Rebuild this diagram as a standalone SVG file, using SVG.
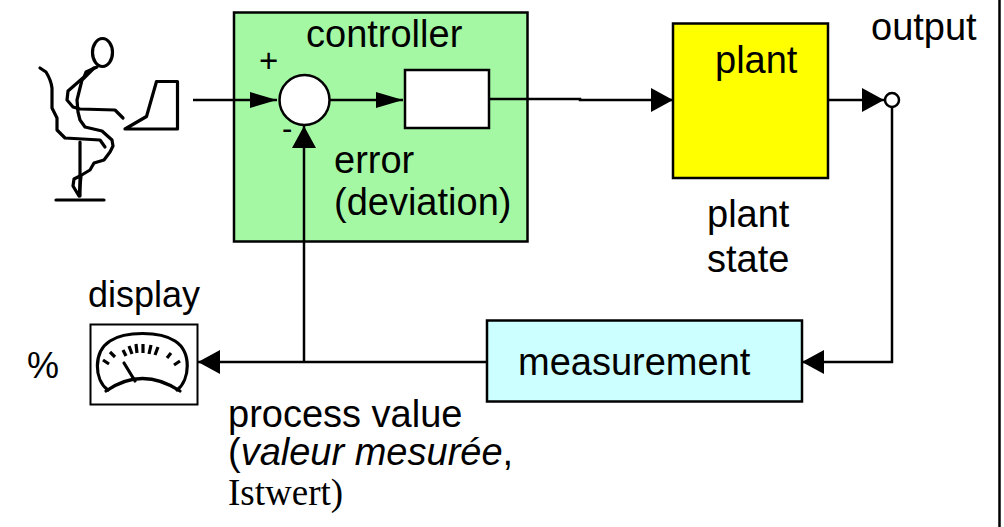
<svg xmlns="http://www.w3.org/2000/svg" width="1004" height="527" viewBox="0 0 1004 527">
  <defs>
    <style>
      text { font-family: "Liberation Sans", Arial, sans-serif; font-size: 38px; fill: #000; }
      .serif { font-family: "Liberation Serif", "Times New Roman", serif; font-size: 37px; }
      .box { stroke: #000; stroke-width: 2.5; }
      .wire { fill: none; stroke: #000; stroke-width: 2.5; }
      .sketch { fill: none; stroke: #000; stroke-width: 3.2; stroke-linejoin: round; stroke-linecap: round; }
      .tick { stroke: #000; stroke-width: 3.2; stroke-linecap: butt; }
    </style>
    <marker id="arrowL" markerUnits="userSpaceOnUse" markerWidth="22" markerHeight="24" refX="22" refY="12" orient="auto">
      <path d="M0,0 L22,12 L0,24 Z" fill="#000"/>
    </marker>
    <marker id="arrowS" markerUnits="userSpaceOnUse" markerWidth="27" markerHeight="16" refX="27" refY="8" orient="auto">
      <path d="M0,0 L27,8 L0,16 Z" fill="#000"/>
    </marker>
  </defs>

  <rect width="1004" height="527" fill="#fff"/>
  <!-- frame edge on the right -->
  <line x1="999.5" y1="0" x2="999.5" y2="527" stroke="#000" stroke-width="2.5"/>

  <!-- operator at the laptop -->
  <g id="operator">
    <ellipse cx="102.5" cy="52.5" rx="10" ry="14" class="sketch"/>
    <path class="sketch" d="M40,68 L46,72 Q51,80 52,88 L52,108 L57,118 L57,130 L65,138 L100,140 L105,147"/>
    <path class="sketch" d="M97,67 L86,72 L84,77 L76,84 L68,91 L67,100 L73,107 L80,109 L115,110 L123,118"/>
    <path class="sketch" d="M94,68 L86,76 L82,80 L80,88 L77,100 L78,112 L80,120 L85,127 L102,131 L112,140 L113,146 L110,152 L104,160 L94,163 L90,170 L80,176 L74,179 L73,186 L79,196 L81,176"/>
    <line class="sketch" x1="80" y1="142" x2="80" y2="196"/>
    <line class="sketch" x1="56" y1="200" x2="104" y2="200"/>
    <path class="sketch" d="M156.5,81.5 L177.5,81.5 L177.5,129 L125,129 L146.5,116.5 Z"/>
  </g>

  <!-- controller -->
  <g id="controller">
    <rect x="234" y="12.5" width="293.5" height="229" fill="#a4f8a4" class="box"/>
    <text x="306" y="47">controller</text>
    <text x="259" y="72" style="font-size:33px">+</text>
    <text x="282" y="139" style="font-size:31px">-</text>
    <text x="334" y="173">error</text>
    <text x="334" y="215">(deviation)</text>
  </g>

  <g id="sum">
    <circle cx="304.5" cy="100" r="25" fill="#fff" class="box"/>
  </g>

  <g id="control-law">
    <rect x="405" y="70" width="84" height="58" fill="#fff" class="box"/>
  </g>

  <!-- plant -->
  <g id="plant">
    <rect x="673" y="23.5" width="155" height="154.5" fill="#ffff00" class="box"/>
    <text x="715" y="73">plant</text>
  </g>

  <g id="plant-state">
    <text x="707" y="227">plant</text>
    <text x="707" y="272">state</text>
  </g>

  <g id="output">
    <text x="871" y="40">output</text>
    <circle cx="892" cy="100" r="7" fill="#fff" stroke="#000" stroke-width="2.5"/>
  </g>

  <!-- measurement -->
  <g id="measurement">
    <rect x="487" y="320.5" width="315" height="81" fill="#ccffff" class="box"/>
    <text x="518" y="375">measurement</text>
  </g>

  <!-- display instrument -->
  <g id="display">
    <text x="88" y="307" style="font-size:36px">display</text>
    <text x="27" y="378" style="font-size:36px">%</text>
    <rect x="90.5" y="324.5" width="107" height="80" fill="#fff" stroke="#000" stroke-width="2"/>
    <path class="sketch" d="M108,390 C94,380 93,352 110,341 C125,331 160,331 175,341 C192,352 190,380 177,390"/>
    <path class="sketch" d="M106,391 Q142,366 180,391"/>
    <line class="sketch" x1="124" y1="363" x2="135" y2="381"/>
    <g>
      <line class="tick" x1="103" y1="360" x2="109" y2="364"/>
      <line class="tick" x1="110" y1="352" x2="115" y2="357"/>
      <line class="tick" x1="123" y1="350" x2="126" y2="356"/>
      <line class="tick" x1="129" y1="346" x2="132" y2="354"/>
      <line class="tick" x1="136" y1="344" x2="137" y2="353"/>
      <line class="tick" x1="143" y1="344" x2="143" y2="353"/>
      <line class="tick" x1="151" y1="345" x2="149" y2="354"/>
      <line class="tick" x1="158" y1="347" x2="155" y2="355"/>
      <line class="tick" x1="171" y1="353" x2="167" y2="358"/>
      <line class="tick" x1="180" y1="361" x2="174" y2="365"/>
    </g>
  </g>

  <g id="process-value">
    <text x="228" y="427">process value</text>
    <text x="228" y="465">(<tspan font-style="italic">valeur mesurée</tspan>,</text>
    <text x="228" y="505" class="serif">Istwert)</text>
  </g>

  <!-- signal lines -->
  <g id="connectors">
    <path class="wire" d="M193,100 H277" marker-end="url(#arrowS)"/>
    <path class="wire" d="M329.5,100 H403" marker-end="url(#arrowS)"/>
    <path class="wire" d="M489,99 H580 V100 H673" marker-end="url(#arrowL)"/>
    <path class="wire" d="M828,100 H884" marker-end="url(#arrowL)"/>
    <path class="wire" d="M892,107 V362 H802" marker-end="url(#arrowL)"/>
    <path class="wire" d="M487,362 H198" marker-end="url(#arrowL)"/>
    <path class="wire" d="M304,362 V126" marker-end="url(#arrowL)"/>
  </g>
</svg>
